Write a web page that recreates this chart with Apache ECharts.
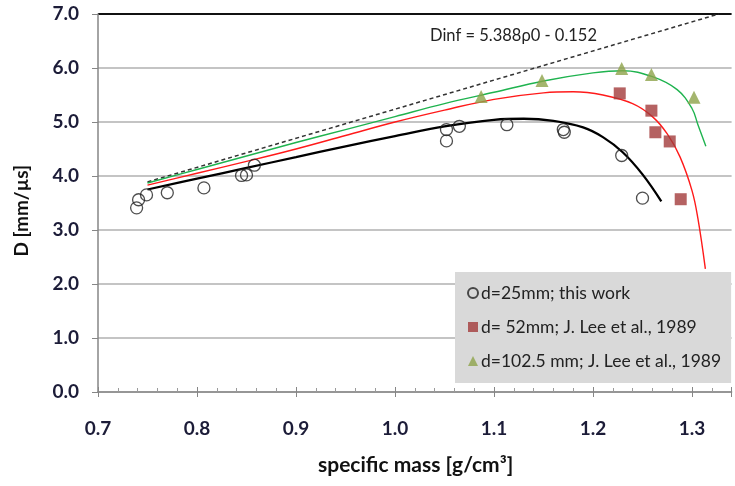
<!DOCTYPE html>
<html>
<head>
<meta charset="utf-8">
<script src="https://cdn.jsdelivr.net/npm/echarts@6/dist/echarts.min.js"></script>
<style>
html,body{margin:0;padding:0;background:#fff;}
#chart{width:735px;height:486px;}
</style>
</head>
<body>
<div id="chart"></div>
<script>
// ---- data ----
const seriesNames = ['d=25mm; this work', 'd= 52mm; J. Lee et al., 1989', 'd=102.5 mm; J. Lee et al., 1989'];
const xTickValues = [0.7, 0.8, 0.9, 1.0, 1.1, 1.2, 1.3];
const yTickValues = [0, 1, 2, 3, 4, 5, 6, 7];

const circleX = [0.739, 0.741, 0.749, 0.770, 0.807, 0.845, 0.850, 0.858, 1.052, 1.052, 1.065, 1.113, 1.170, 1.171, 1.229, 1.250];
const circleY = [3.41, 3.56, 3.65, 3.69, 3.78, 4.01, 4.02, 4.20, 4.86, 4.65, 4.92, 4.95, 4.86, 4.81, 4.38, 3.59];

const squareX = [1.227, 1.259, 1.263, 1.2775, 1.2886];
const squareY = [5.53, 5.21, 4.81, 4.64, 3.57];

const triangleX = [1.087, 1.1485, 1.229, 1.259, 1.302];
const triangleY = [5.47, 5.77, 5.99, 5.88, 5.46];

const blackFitX = [0.75, 0.80, 0.85, 0.90, 0.95, 1.00, 1.05, 1.10, 1.13, 1.16, 1.19, 1.21, 1.23, 1.25, 1.269];
const blackFitY = [3.75, 3.95, 4.15, 4.35, 4.55, 4.74, 4.92, 5.04, 5.06, 5.02, 4.90, 4.72, 4.44, 4.03, 3.53];

const redFitX = [0.75, 0.80, 0.85, 0.90, 0.95, 1.00, 1.05, 1.10, 1.15, 1.18, 1.21, 1.24, 1.26, 1.275, 1.288, 1.30, 1.306, 1.3135];
const redFitY = [3.83, 4.05, 4.27, 4.50, 4.75, 5.00, 5.22, 5.42, 5.54, 5.56, 5.50, 5.34, 5.10, 4.78, 4.35, 3.73, 3.21, 2.28];

const greenFitX = [0.75, 0.80, 0.85, 0.90, 0.95, 1.00, 1.05, 1.10, 1.15, 1.20, 1.23, 1.26, 1.285, 1.30, 1.306, 1.314];
const greenFitY = [3.87, 4.12, 4.37, 4.62, 4.86, 5.10, 5.34, 5.55, 5.76, 5.91, 5.95, 5.84, 5.60, 5.25, 4.95, 4.55];

const dinfX = [0.75, 1.327];
const dinfY = [3.89, 7.0];
const dinfLabel = 'Dinf = 5.388ρ0 - 0.152';
const xTitle = 'specific mass [g/cm³]';
const yTitle = 'D [mm/µs]';

// ---- build ----
const zip = (xs, ys) => xs.map((x, i) => [x, ys[i]]);
const FONT = 'Lato, "Open Sans", sans-serif';

const chart = echarts.init(document.getElementById('chart'), null, {renderer: 'canvas'});
const xMin = 0.7, xMax = 1.34;
const isTick = (v, list) => list.some(t => Math.abs(t - v) < 1e-6);

const option = {
  animation: false,
  backgroundColor: '#ffffff',
  grid: {left: 98, right: 735 - 731.6, top: 14, bottom: 94, containLabel: false},
  xAxis: [{
    type: 'value', min: xMin, max: xMax, interval: 0.1,
    axisLine: {show: true, lineStyle: {color: '#868686', width: 1.5}},
    axisTick: {show: true, inside: true, length: 5, lineStyle: {color: '#868686', width: 1}},
    minorTick: {show: true, splitNumber: 5, length: 4, lineStyle: {color: '#9a9a9a', width: 1}},
    axisLabel: {
      margin: 27, fontFamily: FONT, fontSize: 19, fontWeight: 'bold', color: '#1c1c38',
      formatter: v => isTick(v, xTickValues) ? v.toFixed(1) : ''
    },
    splitLine: {show: false}
  }, {
    type: 'value', min: xMin, max: xMax, interval: 0.1, position: 'bottom',
    axisLine: {show: false},
    axisTick: {show: true, inside: false, length: 5, lineStyle: {color: '#868686', width: 1}},
    axisLabel: {show: false},
    splitLine: {show: false}
  }],
  yAxis: {
    type: 'value', min: 0, max: 7, interval: 1,
    axisLine: {show: true, lineStyle: {color: '#868686', width: 1.5}},
    axisTick: {show: true, length: 6, lineStyle: {color: '#868686', width: 1}},
    axisLabel: {
      margin: 19, fontFamily: FONT, fontSize: 19, fontWeight: 'bold', color: '#1c1c38',
      formatter: v => isTick(v, yTickValues) ? v.toFixed(1) : ''
    },
    splitLine: {show: true, lineStyle: {width: 2, color: ['#c4c4c4', '#c4c4c4', '#c4c4c4', '#c4c4c4', '#c4c4c4', '#c4c4c4', '#c4c4c4', '#111111']}}
  },
  legend: {
    orient: 'vertical', left: 455, top: 272,
    backgroundColor: '#d9d9d9',
    padding: [12, 10, 13, 12],
    itemGap: 16, itemWidth: 10, itemHeight: 10,
    textStyle: {fontFamily: FONT, fontSize: 17.5, color: '#222222', padding: [0, 0, 0, -2]},
    data: [
      {name: seriesNames[0], icon: 'circle'},
      {name: seriesNames[1], icon: 'rect'},
      {name: seriesNames[2], icon: 'triangle'}
    ]
  },
  graphic: [{
    type: 'text', left: 430, top: 27,
    style: {text: dinfLabel, fontFamily: FONT, fontSize: 16.5, fill: '#222222'}
  }, {
    type: 'text', left: 12, top: 165, rotation: Math.PI / 2,
    style: {text: yTitle, fontFamily: FONT, fontSize: 19, fontWeight: 'bold', fill: '#111111'}
  }, {
    type: 'text', left: 318, top: 455,
    style: {text: xTitle, fontFamily: FONT, fontSize: 21, fontWeight: 'bold', fill: '#111111'}
  }],
  series: [
    {
      name: 'dinf', type: 'line', data: zip(dinfX, dinfY), symbol: 'none', silent: true,
      lineStyle: {color: '#333333', width: 1.5, type: [4, 3]}, z: 2
    },
    {
      name: 'blackfit', type: 'line', data: zip(blackFitX, blackFitY), symbol: 'none', smooth: 0.4, silent: true,
      lineStyle: {color: '#000000', width: 2.3}, z: 3
    },
    {
      name: 'redfit', type: 'line', data: zip(redFitX, redFitY), symbol: 'none', smooth: 0.4, silent: true,
      lineStyle: {color: '#ff1a1a', width: 1.4}, z: 3
    },
    {
      name: 'greenfit', type: 'line', data: zip(greenFitX, greenFitY), symbol: 'none', smooth: 0.4, silent: true,
      lineStyle: {color: '#1fb34f', width: 1.4}, z: 3
    },
    {
      name: seriesNames[0], type: 'scatter', data: zip(circleX, circleY), symbol: 'circle', symbolSize: 12,
      itemStyle: {color: 'rgba(255,255,255,0)', borderColor: '#222222', borderWidth: 1.3}, z: 4
    },
    {
      name: seriesNames[1], type: 'scatter', data: zip(squareX, squareY), symbol: 'rect', symbolSize: 12,
      itemStyle: {color: '#a33b3b'}, z: 4
    },
    {
      name: seriesNames[2], type: 'scatter', data: zip(triangleX, triangleY), symbol: 'triangle', symbolSize: 13,
      itemStyle: {color: '#8da24a'}, z: 4
    }
  ]
};
chart.setOption(option);
</script>
</body>
</html>
